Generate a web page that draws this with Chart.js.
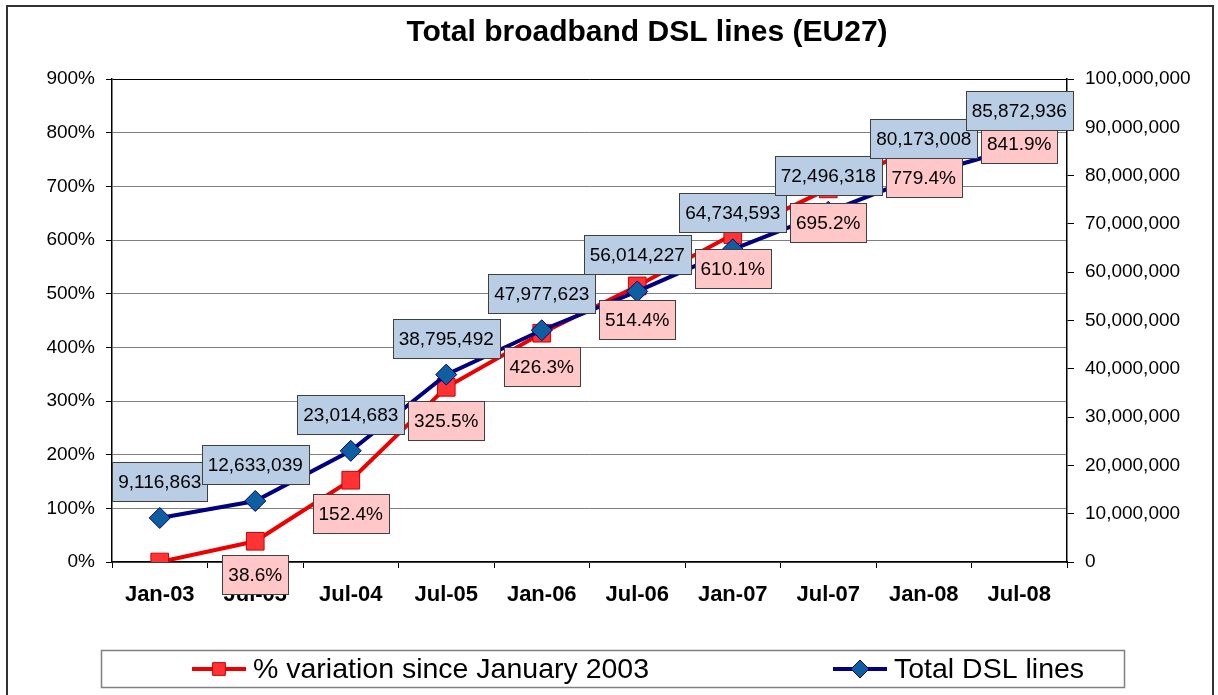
<!DOCTYPE html>
<html>
<head>
<meta charset="utf-8">
<script src="https://cdn.jsdelivr.net/npm/chart.js@4.4.0/dist/chart.umd.min.js"></script>
<style>
  html, body { margin: 0; padding: 0; background: #fff; }
  #wrap { width: 1218px; height: 695px; position: relative; }
</style>
</head>
<body>
<div id="wrap"><canvas id="dslChart"></canvas></div>
<script>
const categories = ["Jan-03", "Jul-03", "Jul-04", "Jul-05", "Jan-06", "Jul-06", "Jan-07", "Jul-07", "Jan-08", "Jul-08"];
const variationPct = [0, 38.6, 152.4, 325.5, 426.3, 514.4, 610.1, 695.2, 779.4, 841.9];
const totalLines = [9116863, 12633039, 23014683, 38795492, 47977623, 56014227, 64734593, 72496318, 80173008, 85872936];
const pctTicks = [0, 100, 200, 300, 400, 500, 600, 700, 800, 900];
const lineTicks = [0, 10000000, 20000000, 30000000, 40000000, 50000000, 60000000, 70000000, 80000000, 90000000, 100000000];
const chartTitle = 'Total broadband DSL lines (EU27)';

const FONT = "'Liberation Sans', Arial, sans-serif";

// white page, outer chart border and the title (centred like the original, a bit right of middle)
const frame = {
  id: 'frame',
  beforeDraw(chart) {
    const ctx = chart.ctx;
    ctx.save();
    ctx.fillStyle = '#fff';
    ctx.fillRect(0, 0, chart.width, chart.height);
    ctx.strokeStyle = '#333';
    ctx.lineWidth = 2;
    ctx.strokeRect(7, 6, 1206, 700);
    ctx.fillStyle = '#000';
    ctx.font = 'bold 30px ' + FONT;
    ctx.textAlign = 'center';
    ctx.textBaseline = 'alphabetic';
    ctx.fillText(chartTitle, 647, 41);
    ctx.restore();
  }
};

function drawBox(ctx, text, cx, top, fill) {
  const w = Math.round(ctx.measureText(text).width + 12);
  const h = 39;
  const left = Math.round(cx - w / 2);
  ctx.fillStyle = fill;
  ctx.fillRect(left, top, w, h);
  ctx.strokeStyle = '#404040';
  ctx.lineWidth = 1;
  ctx.strokeRect(left + 0.5, Math.round(top) + 0.5, w, h);
  ctx.fillStyle = '#000';
  ctx.fillText(text, cx, top + h / 2 + 1);
}

// boxed data labels: pink under the % points, blue over the DSL points
const boxLabels = {
  id: 'boxLabels',
  afterDraw(chart) {
    const ctx = chart.ctx;
    ctx.save();
    ctx.font = '19px ' + FONT;
    ctx.textAlign = 'center';
    ctx.textBaseline = 'middle';
    const pctMeta = chart.getDatasetMeta(1);
    pctMeta.data.forEach((pt, i) => {
      if (i === 0) return;
      drawBox(ctx, variationPct[i].toFixed(1) + '%', pt.x, Math.round(pt.y) + 14, '#ffc7c7');
    });
    const lineMeta = chart.getDatasetMeta(0);
    lineMeta.data.forEach((pt, i) => {
      drawBox(ctx, totalLines[i].toLocaleString('en-US'), pt.x, Math.round(pt.y) - 17 - 39, '#b9cde5');
    });
    ctx.restore();
  }
};

// legend in a box below the plot, line + marker like the series
const boxLegend = {
  id: 'boxLegend',
  afterDraw(chart) {
    const ctx = chart.ctx;
    const ds = chart.data.datasets;
    const y = 669;
    ctx.save();
    ctx.strokeStyle = '#808080';
    ctx.lineWidth = 1.5;
    ctx.strokeRect(101.5, 650.5, 1023, 37);
    ctx.font = '28.5px ' + FONT;
    ctx.textBaseline = 'middle';
    ctx.textAlign = 'left';
    const items = [
      { d: ds[1], x0: 192, radius: 9 },
      { d: ds[0], x0: 833, radius: 9 }
    ];
    items.forEach(it => {
      ctx.strokeStyle = it.d.borderColor;
      ctx.lineWidth = 4;
      ctx.beginPath();
      ctx.moveTo(it.x0, y);
      ctx.lineTo(it.x0 + 54, y);
      ctx.stroke();
      ctx.fillStyle = it.d.pointBackgroundColor;
      ctx.strokeStyle = it.d.pointBorderColor;
      ctx.lineWidth = 1;
      Chart.helpers.drawPoint(ctx, { pointStyle: it.d.pointStyle, radius: it.radius, borderWidth: 1, rotation: 0 }, it.x0 + 27, y);
      ctx.fillStyle = '#000';
      ctx.fillText(it.d.label, it.x0 + 61, y + 1);
    });
    ctx.restore();
  }
};

new Chart(document.getElementById('dslChart'), {
  type: 'line',
  data: {
    labels: categories,
    datasets: [
      {
        label: 'Total DSL lines',
        data: totalLines,
        yAxisID: 'yLines',
        borderColor: '#000080',
        borderWidth: 4,
        pointStyle: 'rectRot',
        pointRadius: 10.5,
        pointBackgroundColor: '#0f5fa0',
        pointBorderColor: '#000080',
        pointBorderWidth: 1,
        tension: 0
      },
      {
        label: '% variation since January 2003',
        data: variationPct,
        yAxisID: 'yPct',
        borderColor: '#ee0000',
        borderWidth: 4,
        pointStyle: 'rect',
        pointRadius: 12.5,
        pointBackgroundColor: '#ff3333',
        pointBorderColor: '#cc0000',
        pointBorderWidth: 1,
        tension: 0
      }
    ]
  },
  options: {
    responsive: true,
    maintainAspectRatio: false,
    animation: false,
    events: [],
    layout: { padding: { top: 79, left: 10, right: 4, bottom: 83 } },
    plugins: {
      legend: { display: false },
      tooltip: { enabled: false },
      title: { display: false }
    },
    scales: {
      x: {
        offset: true,
        grid: { offset: true, drawOnChartArea: false, tickLength: 6, tickColor: '#000' },
        border: { color: '#000', width: 1.5 },
        ticks: {
          color: '#000',
          font: { family: FONT, size: 22, weight: 'bold' },
          padding: 14,
          maxRotation: 0,
          autoSkip: false
        },
        afterFit(s) { s.height = 50; }
      },
      yPct: {
        position: 'left',
        min: 0,
        max: 900,
        afterBuildTicks(s) { s.ticks = pctTicks.map(v => ({ value: v })); },
        grid: {
          color: c => (c.tick && c.tick.value === 900 ? '#000' : '#808080'),
          tickColor: '#000',
          tickLength: 6
        },
        border: { color: '#000', width: 1.5 },
        ticks: {
          color: '#000',
          font: { family: FONT, size: 19 },
          padding: 11,
          callback: v => v + '%'
        },
        afterFit(s) { s.width = 102; }
      },
      yLines: {
        position: 'right',
        min: 0,
        max: 100000000,
        afterBuildTicks(s) { s.ticks = lineTicks.map(v => ({ value: v })); },
        grid: { drawOnChartArea: false, tickColor: '#000', tickLength: 7 },
        border: { color: '#000', width: 1.5 },
        ticks: {
          color: '#000',
          font: { family: FONT, size: 19 },
          padding: 11,
          callback: v => v.toLocaleString('en-US')
        },
        afterFit(s) { s.width = 147; }
      }
    }
  },
  plugins: [frame, boxLabels, boxLegend]
});
</script>
</body>
</html>
